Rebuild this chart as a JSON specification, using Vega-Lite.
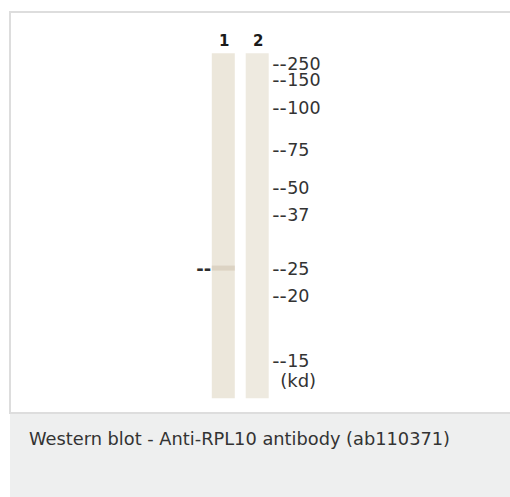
{
  "$schema": "https://vega.github.io/schema/vega-lite/v6.json",
  "description": "Western blot, anti-RPL10, two lanes with molecular weight markers (kd).",
  "background": "white",
  "padding": {"left": 9, "top": 11, "right": -2, "bottom": 0},
  "bounds": "flush",
  "spacing": 1,
  "title": {
    "text": "Western blot - Anti-RPL10 antibody (ab110371)",
    "orient": "bottom",
    "anchor": "start",
    "frame": "bounds",
    "offset": -66,
    "dx": 20,
    "font": "DejaVu Sans",
    "fontSize": 17.8,
    "fontWeight": "normal",
    "color": "#333333"
  },
  "datasets": {
    "lanes": [
      {"lane": 1},
      {"lane": 2}
    ],
    "bands": [
      {"lane": 1, "kd": 25, "rf": 0.6226}
    ],
    "markers": [
      {"kd": 250, "rf": 0.029},
      {"kd": 150, "rf": 0.0745},
      {"kd": 100, "rf": 0.1557},
      {"kd": 75, "rf": 0.2765},
      {"kd": 50, "rf": 0.3867},
      {"kd": 37, "rf": 0.4672},
      {"kd": 25, "rf": 0.6232},
      {"kd": 20, "rf": 0.702},
      {"kd": 15, "rf": 0.889}
    ],
    "units": [
      {"unit": "(kd)", "rf": 0.948}
    ]
  },
  "config": {"view": {"stroke": null}},
  "vconcat": [
    {
      "width": 501,
      "height": 401,
      "view": {"fill": "white", "stroke": "#dddddd", "strokeWidth": 2},
      "layer": [
        {
          "data": {"name": "lanes"},
          "mark": {"type": "rule", "strokeWidth": 23, "strokeCap": "butt"},
          "encoding": {
            "x": {"field": "lane", "type": "quantitative", "axis": null,
                  "scale": {"domain": [1, 2], "range": [213.3, 247.2], "zero": false, "nice": false}},
            "y": {"datum": 0, "type": "quantitative", "axis": null,
                  "scale": {"domain": [0, 1], "range": [41.3, 386.3], "zero": false, "nice": false}},
            "y2": {"datum": 1},
            "color": {"field": "lane", "type": "nominal", "legend": null,
                      "scale": {"range": ["#ece7db", "#eeeae0"]}}
          }
        },
        {
          "data": {"name": "bands"},
          "mark": {"type": "tick", "orient": "horizontal", "size": 23, "thickness": 5, "color": "#d9cfbe", "opacity": 0.85},
          "encoding": {
            "x": {"field": "lane", "type": "quantitative", "axis": null},
            "y": {"field": "rf", "type": "quantitative", "axis": null}
          }
        },
        {
          "data": {"name": "bands"},
          "mark": {"type": "text", "text": "--", "align": "right", "baseline": "middle", "dx": -12, "dy": 2,
                   "font": "DejaVu Sans", "fontSize": 18, "fontWeight": "bold", "color": "#2e2e2e"},
          "encoding": {
            "x": {"field": "lane", "type": "quantitative", "axis": null},
            "y": {"field": "rf", "type": "quantitative", "axis": null}
          }
        },
        {
          "data": {"name": "lanes"},
          "mark": {"type": "text", "align": "center", "baseline": "middle", "dx": 1,
                   "font": "DejaVu Sans", "fontSize": 15, "fontWeight": "bold", "color": "#1a1a1a"},
          "encoding": {
            "x": {"field": "lane", "type": "quantitative", "axis": null},
            "y": {"datum": -0.036, "type": "quantitative", "axis": null},
            "text": {"field": "lane", "type": "nominal"}
          }
        },
        {
          "data": {"name": "markers"},
          "mark": {"type": "text", "text": "--", "align": "left", "baseline": "middle", "dx": 15, "dy": 2,
                   "font": "DejaVu Sans", "fontSize": 20, "color": "#333333"},
          "encoding": {
            "x": {"datum": 2, "type": "quantitative", "axis": null},
            "y": {"field": "rf", "type": "quantitative", "axis": null}
          }
        },
        {
          "data": {"name": "markers"},
          "mark": {"type": "text", "align": "left", "baseline": "middle", "dx": 30, "dy": 2,
                   "font": "DejaVu Sans", "fontSize": 17.5, "color": "#333333"},
          "encoding": {
            "x": {"datum": 2, "type": "quantitative", "axis": null},
            "y": {"field": "rf", "type": "quantitative", "axis": null},
            "text": {"field": "kd", "type": "nominal"}
          }
        },
        {
          "data": {"name": "units"},
          "mark": {"type": "text", "align": "left", "baseline": "middle", "dx": 23, "dy": 2,
                   "font": "DejaVu Sans", "fontSize": 18, "color": "#333333"},
          "encoding": {
            "x": {"datum": 2, "type": "quantitative", "axis": null},
            "y": {"field": "rf", "type": "quantitative", "axis": null},
            "text": {"field": "unit", "type": "nominal"}
          }
        }
      ]
    },
    {
      "width": 501,
      "height": 83,
      "view": {"fill": "#eeefef", "stroke": null},
      "data": {"values": []},
      "mark": "rect",
      "encoding": {}
    }
  ]
}
